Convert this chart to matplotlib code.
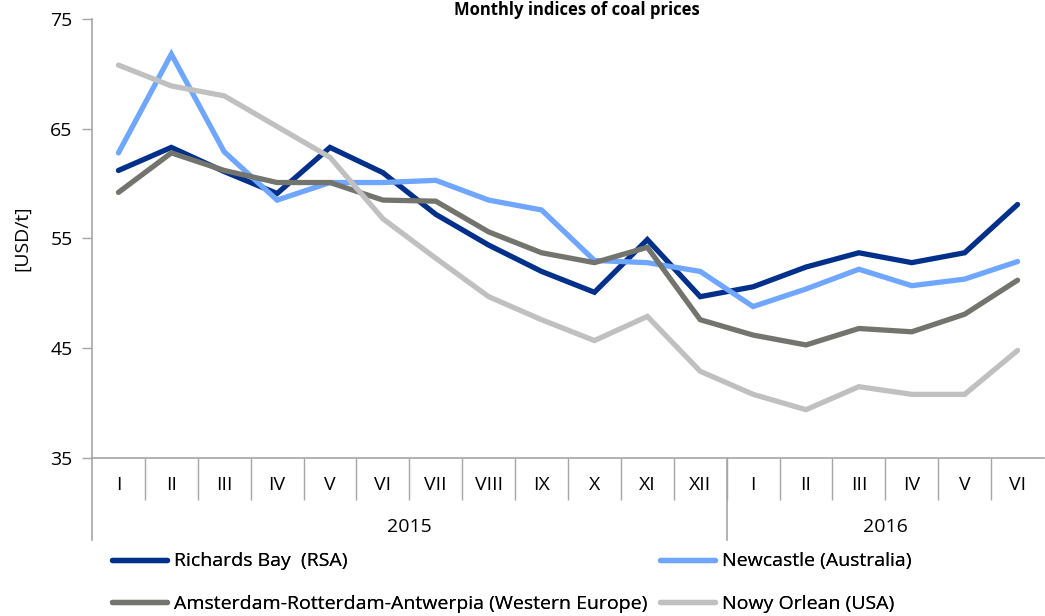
import matplotlib
matplotlib.use("Agg")
import matplotlib.pyplot as plt
from matplotlib.transforms import blended_transform_factory
from matplotlib.lines import Line2D

plt.rcParams['font.family'] = ['Open Sans', 'DejaVu Sans']

months = ["I", "II", "III", "IV", "V", "VI", "VII", "VIII", "IX", "X", "XI", "XII",
          "I", "II", "III", "IV", "V", "VI"]
years = ["2015", "2016"]
year_lengths = [12, 6]

richards_bay = [61.2, 63.3, 61.1, 59.1, 63.3, 61.0, 57.2, 54.4, 52.0, 50.1, 54.9, 49.7,
                50.6, 52.4, 53.7, 52.8, 53.7, 58.1]
newcastle = [62.8, 71.8, 62.9, 58.5, 60.1, 60.1, 60.3, 58.5, 57.6, 53.0, 52.8, 52.0,
             48.8, 50.4, 52.2, 50.7, 51.3, 52.9]
ara = [59.2, 62.8, 61.2, 60.1, 60.1, 58.5, 58.4, 55.6, 53.7, 52.8, 54.2, 47.6,
       46.2, 45.3, 46.8, 46.5, 48.1, 51.2]
nowy_orlean = [70.8, 68.9, 68.0, 65.2, 62.4, 56.8, 53.2, 49.7, 47.6, 45.7, 47.9, 42.9,
               40.8, 39.4, 41.5, 40.8, 40.8, 44.8]

series = [
    ("Richards Bay  (RSA)", richards_bay, "#00308a"),
    ("Newcastle (Australia)", newcastle, "#6fa6ff"),
    ("Amsterdam-Rotterdam-Antwerpia (Western Europe)", ara, "#74746f"),
    ("Nowy Orlean (USA)", nowy_orlean, "#c0c0c0"),
]

FS = 14

fig = plt.figure(figsize=(10.45, 6.16), dpi=100)
ax = fig.add_axes([92 / 1045, 1 - 458 / 616, (1044 - 92) / 1045, (458 - 19) / 616])

x = list(range(len(months)))
handles = {}
for name, vals, col in series:
    ln, = ax.plot(x, vals, color=col, lw=3.8, solid_capstyle='round', solid_joinstyle='miter', label=name)
    handles[name] = ln

ax.set_xlim(-0.5, len(months) - 0.5)
ax.set_ylim(35, 75)
ax.set_yticks([35, 45, 55, 65, 75])
ax.tick_params(axis='y', length=7, width=1, color='#a6a6a6', pad=7, labelsize=FS)

ax.set_xticks(x)
ax.set_xticklabels(months, fontsize=FS)
ax.tick_params(axis='x', which='major', length=0, pad=13)
ax.set_xticks([k + 0.5 for k in range(len(months) - 1)], minor=True)
ax.tick_params(axis='x', which='minor', length=30, width=1, color='#a6a6a6')

for s in ['top', 'right']:
    ax.spines[s].set_visible(False)
for s in ['left', 'bottom']:
    ax.spines[s].set_color('#a6a6a6')
    ax.spines[s].set_linewidth(1.2)

ax.set_ylabel("[USD/t]", fontsize=FS, labelpad=14)

# year separators and labels
tr = blended_transform_factory(ax.transData, fig.transFigure)
y_top = 1 - 458 / 616
y_bot = 1 - 540 / 616
start = -0.5
for yr, n in zip(years, year_lengths):
    ax.add_line(Line2D([start, start], [y_top, y_bot], transform=tr, color='#a6a6a6', lw=1.2, clip_on=False))
    ax.text(start + n / 2, 1 - 527 / 616, yr, transform=tr, ha='center', va='center', fontsize=FS)
    start += n

fig.text(577 / 1045, 1 - 1 / 616, "Monthly indices of coal prices", ha='center', va='top',
         fontsize=12, fontweight='bold')

# legend: two columns placed separately
cols = [[series[0][0], series[2][0]], [series[1][0], series[3][0]]]
col_x = [112, 660]
for names, cx in zip(cols, col_x):
    leg = fig.legend([handles[n] for n in names], names, loc='center left',
                     bbox_to_anchor=(cx / 1045, 1 - 582.5 / 616), ncol=1, frameon=False,
                     fontsize=FS, handlelength=2.85, handletextpad=0.35,
                     labelspacing=1.25, borderpad=0, borderaxespad=0)
    fig.add_artist(leg)

fig.savefig("out.png", dpi=100)
